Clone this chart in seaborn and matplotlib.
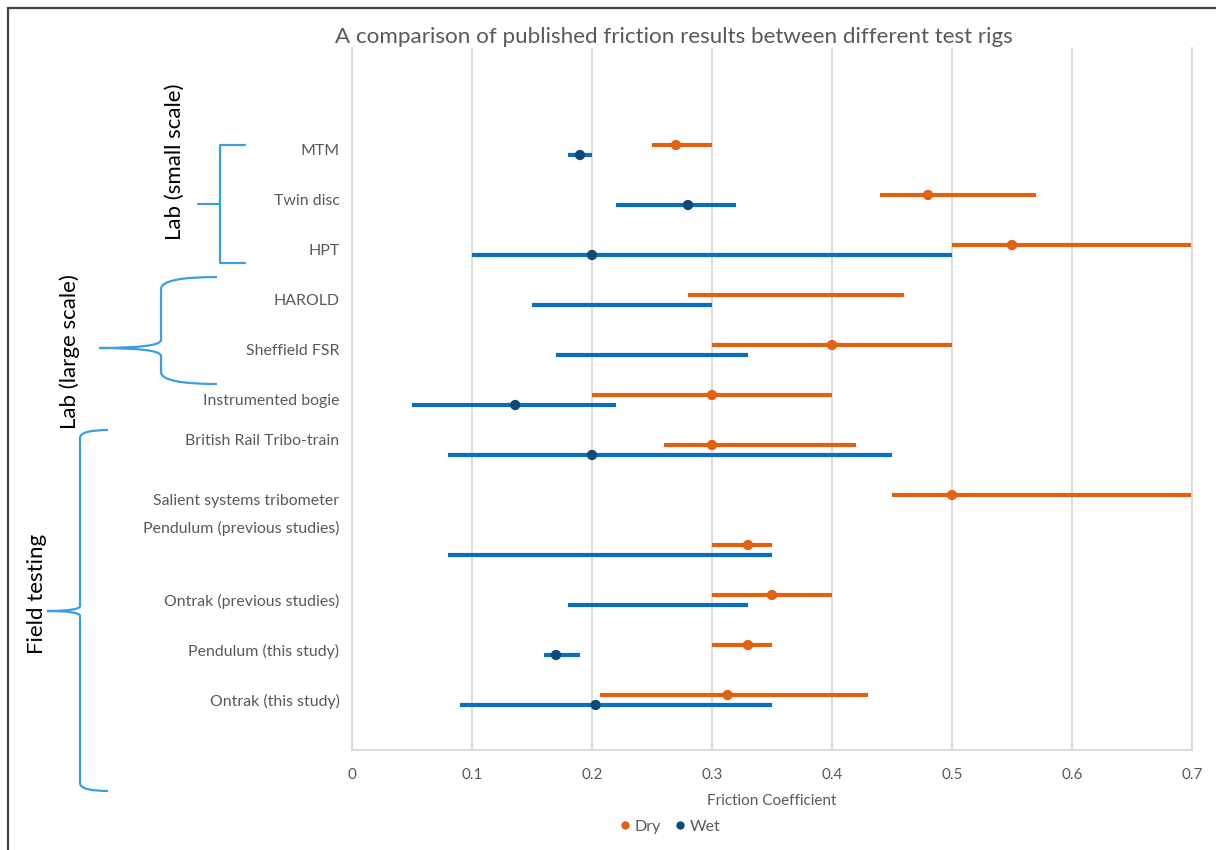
import numpy as np
import pandas as pd
import seaborn as sns
import matplotlib.pyplot as plt
from matplotlib.path import Path
from matplotlib.patches import PathPatch
from matplotlib.lines import Line2D
from matplotlib.transforms import Affine2D

# data
rigs = ["MTM", "Twin disc", "HPT", "HAROLD", "Sheffield FSR", "Instrumented bogie",
        "British Rail Tribo-train", "Salient systems tribometer", "Pendulum (previous studies)",
        "Ontrak (previous studies)", "Pendulum (this study)", "Ontrak (this study)"]
label_pos = [0, 1, 2, 3, 4, 5, 5.8, 7, 7.54, 9, 10, 11]   # where Excel put the category text

dry_lo = [0.25, 0.44, 0.50, 0.28, 0.30, 0.20, 0.26, 0.45, 0.30, 0.30, 0.30, 0.207]
dry_hi = [0.30, 0.57, 0.70, 0.46, 0.50, 0.40, 0.42, 0.70, 0.35, 0.40, 0.35, 0.43]
dry_mid = [0.27, 0.48, 0.55, np.nan, 0.40, 0.30, 0.30, 0.50, 0.33, 0.35, 0.33, 0.313]

wet_lo = [0.18, 0.22, 0.10, 0.15, 0.17, 0.05, 0.08, np.nan, 0.08, 0.18, 0.16, 0.09]
wet_hi = [0.20, 0.32, 0.50, 0.30, 0.33, 0.22, 0.45, np.nan, 0.35, 0.33, 0.19, 0.35]
wet_mid = [0.19, 0.28, 0.20, np.nan, np.nan, 0.136, 0.20, np.nan, np.nan, np.nan, 0.17, 0.203]

DRY = "#E3600E"
WET_LINE = "#0A70BE"
WET_DOT = "#0E4A78"
BRACE = "#3A9FE2"
GREY = "#595959"

sns.set_theme(style="white")
plt.rcParams['font.family'] = ['Lato', 'DejaVu Sans']

W, H = 1216, 850
fig = plt.figure(figsize=(W / 100, H / 100), dpi=100)
ax = fig.add_axes([352 / W, 1 - 750 / H, 840 / W, 702 / H])

rows = np.arange(len(rigs))
dry_y = rows - 0.1
wet_y = rows + 0.1

# ranges
ax.hlines(dry_y, dry_lo, dry_hi, color=DRY, lw=3, zorder=2)
ax.hlines(wet_y, wet_lo, wet_hi, color=WET_LINE, lw=3, zorder=2)

# mean points
pts = pd.concat([
    pd.DataFrame({"mu": dry_mid, "y": dry_y, "cond": "Dry"}),
    pd.DataFrame({"mu": wet_mid, "y": wet_y, "cond": "Wet"}),
]).dropna()
sns.scatterplot(data=pts, x="mu", y="y", hue="cond", palette={"Dry": DRY, "Wet": WET_DOT},
                s=55, linewidth=0, legend=False, ax=ax, zorder=3)

ax.set_xlim(0, 0.7)
ax.set_ylim(12, -2.04)
ticks = np.round(np.arange(0, 0.71, 0.1), 1)
ax.set_xticks(ticks)
ax.set_xticklabels([f"{t:g}" for t in ticks], color=GREY, fontsize=11)
ax.set_yticks(label_pos)
ax.set_yticklabels(rigs, color=GREY, fontsize=11.4)
ax.tick_params(axis='both', length=0)
ax.tick_params(axis='x', pad=13)
ax.tick_params(axis='y', pad=9)
ax.set_xlabel("Friction Coefficient", color=GREY, fontsize=11)
ax.xaxis.set_label_coords(0.5, -44 / 702)
ax.set_ylabel("")
ax.grid(axis='x', color='#D9D9D9', lw=1.3)
ax.grid(axis='y', visible=False)
ax.set_axisbelow(True)
for side in ["left", "right", "bottom"]:
    ax.spines[side].set_color('#D9D9D9')
    ax.spines[side].set_linewidth(1.3)
ax.spines["top"].set_visible(False)

fig.text(674 / W, 1 - 37 / H, "A comparison of published friction results between different test rigs",
         ha='center', va='center', fontsize=16.1, color=GREY)

fig.legend(handles=[Line2D([], [], marker='o', ls='', color=DRY, markersize=5, label='Dry'),
                    Line2D([], [], marker='o', ls='', color=WET_DOT, markersize=5, label='Wet')],
           loc='center', bbox_to_anchor=(670 / W, 1 - 827 / H), ncol=2, frameon=False,
           handlelength=0.6, handletextpad=0.3, columnspacing=0.9, fontsize=11.5, labelcolor=GREY)

# pixel coordinates for the annotation shapes
px = Affine2D().scale(1 / W, -1 / H).translate(0, 1) + fig.transFigure


def curly(x_end, x_spine, x_tip, y_top, y_mid, y_bot, r, r2):
    verts = [(x_end, y_top), (x_spine, y_top), (x_spine, y_top + r),
             (x_spine, y_mid - r2), (x_spine, y_mid), (x_tip, y_mid),
             (x_spine, y_mid), (x_spine, y_mid + r2),
             (x_spine, y_bot - r), (x_spine, y_bot), (x_end, y_bot)]
    codes = [Path.MOVETO, Path.CURVE3, Path.CURVE3,
             Path.LINETO, Path.CURVE3, Path.CURVE3,
             Path.CURVE3, Path.CURVE3,
             Path.LINETO, Path.CURVE3, Path.CURVE3]
    fig.patches.append(PathPatch(Path(verts, codes), fill=False, edgecolor=BRACE, lw=1.6, transform=px))


# square bracket for small scale
fig.lines.append(Line2D([245, 220, 220, 245], [145, 145, 263, 263], color=BRACE, lw=1.6, transform=px))
fig.lines.append(Line2D([198, 220], [204, 204], color=BRACE, lw=1.6, transform=px))
curly(217, 161, 99, 277, 348, 384, 12, 8)
curly(108, 80, 47, 430, 611, 791, 8, 5)

fig.text(175 / W, 1 - 162 / H, "Lab (small scale)", rotation=90, ha='center', va='center', fontsize=16, color='black')
fig.text(70 / W, 1 - 352 / H, "Lab (large scale)", rotation=90, ha='center', va='center', fontsize=16, color='black')
fig.text(37 / W, 1 - 594 / H, "Field testing", rotation=90, ha='center', va='center', fontsize=16, color='black')

# frame edges visible in the cropped figure
fig.lines.append(Line2D([8, W], [8, 8], color='#404040', lw=1.6, transform=px))
fig.lines.append(Line2D([8, 8], [8, H], color='#404040', lw=1.6, transform=px))

fig.savefig("out.png", dpi=100)
